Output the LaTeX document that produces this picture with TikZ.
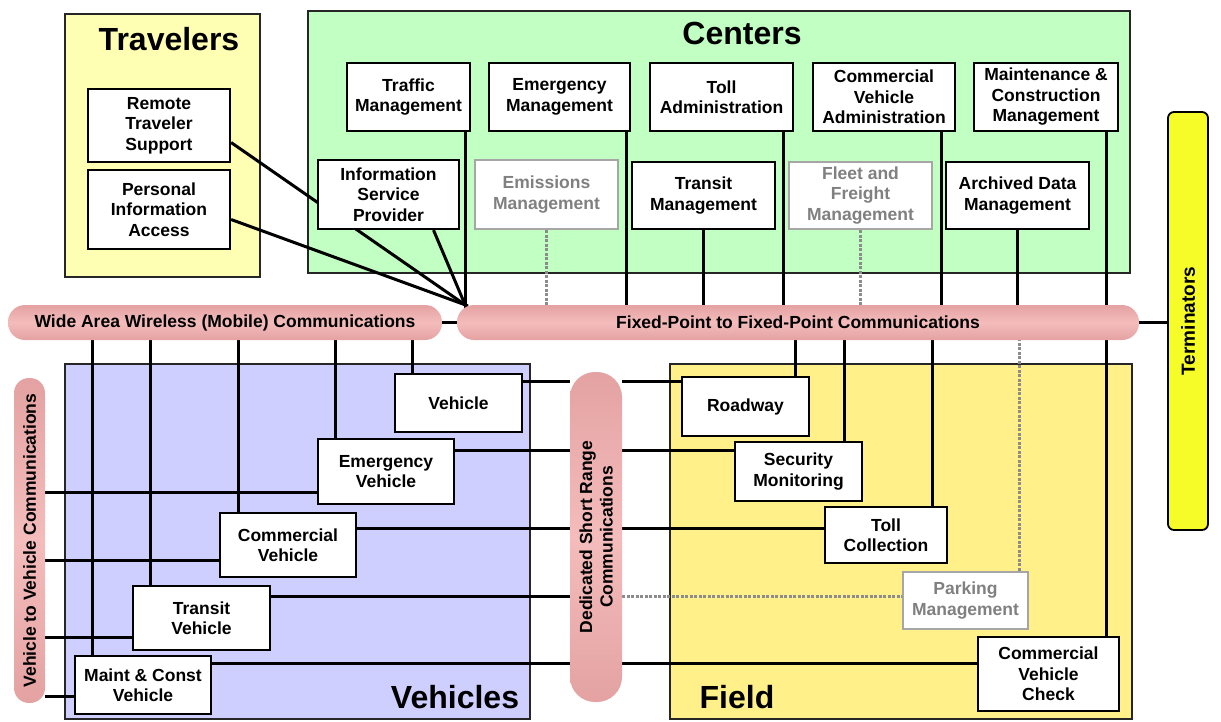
\documentclass[tikz,border=0pt]{standalone}
\usepackage{fontspec}
\setmainfont{Liberation Sans}
\usetikzlibrary{calc}
\pgfdeclarelayer{background}
\pgfdeclarelayer{links}
\pgfsetlayers{background,links,main}
\definecolor{travfill}{RGB}{255,255,180}
\definecolor{centfill}{RGB}{194,255,194}
\definecolor{vehfill}{RGB}{206,206,255}
\definecolor{fieldfill}{RGB}{255,240,138}
\definecolor{termfill}{RGB}{245,252,40}
\definecolor{pillrim}{RGB}{228,162,162}
\definecolor{pillcore}{RGB}{244,188,188}
\newcommand{\unitfont}{\fontsize{17.5}{20.5}\selectfont\bfseries}
\newcommand{\headfont}{\fontsize{32}{36}\selectfont\bfseries}
\tikzset{
  region/.style={draw=black!85,line width=1.8pt},
  head/.style={font=\headfont,inner sep=0pt},
  unit/.style={draw,fill=white,line width=2.2pt,align=center,inner sep=0pt,
    font=\unitfont,minimum width=142pt,minimum height=68pt},
  faded/.style={unit,draw=black!35,text=black!50},
  pill/.style={inner sep=0pt,align=center,font=\unitfont,rounded corners=17pt,
    top color=pillrim,bottom color=pillrim,middle color=pillcore},
  link/.style={line width=3pt},
  plink/.style={line width=3pt,draw=black!45,dash pattern=on 3pt off 1.5pt},
  hubline/.style={link,shorten >=-3pt}
}

\begin{document}
\begin{tikzpicture}[x=1pt,y=-1pt]
          \useasboundingbox (0,0) rectangle (1221,721);

          % the four groups
          \begin{pgfonlayer}{background}
            \draw[region,fill=travfill] (65,14) rectangle (260,277);
            \draw[region,fill=centfill] (308,11) rectangle (1130,273);
            \draw[region,fill=vehfill] (65,364) rectangle (530,719);
            \draw[region,fill=fieldfill] (670,364) rectangle (1132,719);
          \end{pgfonlayer}
          \node (travelers) at (169,39) [head] {Travelers};
          \node (centers) at (742,33) [head] {Centers};
          \node (vehicles) at (455,697) [head] {Vehicles};
          \node (field) at (737,697) [head] {Field};

          % travelers
          \node (rts) at (159,125.5) [unit,minimum height=73pt] {Remote\\Traveler\\Support};
          \node (pia) at (159,209.5) [unit,minimum height=79pt] {Personal\\Information\\Access};

          % centers
          \node (traffic) at (408.5,97) [unit,minimum width=123pt] {Traffic\\Management};
          \node (emergmgmt) at (559.5,97) [unit,minimum width=141pt] {Emergency\\Management};
          \node (tolladmin) at (721.5,97) [unit,minimum width=143pt] {Toll\\Administration};
          \node (cva) at (884,97) [unit] {Commercial\\Vehicle\\Administration};
          \node (mcm) at (1046,97) [unit,minimum width=144pt] {Maintenance \&\\Construction\\Management};
          \node (isp) at (388.5,194.5) [unit,minimum width=141pt,minimum height=69pt] {Information\\Service\\Provider};
          \node (emissions) at (546.5,194.5) [faded,minimum width=143pt,minimum height=69pt] {Emissions\\Management};
          \node (transitmgmt) at (703.5,195.5) [unit,minimum width=143pt,minimum height=67pt] {Transit\\Management};
          \node (fleet) at (860.5,195.5) [faded,minimum width=143pt,minimum height=67pt] {Fleet and\\Freight\\Management};
          \node (archived) at (1017.5,195.5) [unit,minimum width=143pt,minimum height=67pt] {Archived Data\\Management};

          % vehicles
          \node (vehicle) at (458.5,403) [unit,minimum width=127pt,minimum height=58pt] {Vehicle};
          \node (emergveh) at (386,471.5) [unit,minimum width=136pt,minimum height=65pt] {Emergency\\Vehicle};
          \node (commveh) at (288,545) [unit,minimum width=136pt,minimum height=64pt] {Commercial\\Vehicle};
          \node (transveh) at (201.5,618) [unit,minimum width=137pt,minimum height=64pt] {Transit\\Vehicle};
          \node (maintveh) at (143,685) [unit,minimum width=136pt,minimum height=58pt] {Maint \& Const\\Vehicle};

          % field
          \node (roadway) at (745.5,406.5) [unit,minimum width=127pt,minimum height=59pt] {Roadway};
          \node (secmon) at (798.5,471.5) [unit,minimum width=127pt,minimum height=59pt] {Security\\Monitoring};
          \node (tollcoll) at (886,535) [unit,minimum width=122pt,minimum height=56pt] {Toll\\Collection};
          \node (parking) at (965.5,600.5) [faded,minimum width=125pt,minimum height=57pt] {Parking\\Management};
          \node (cvcheck) at (1048.5,674) [unit,minimum width=141pt,minimum height=74pt] {Commercial\\Vehicle\\Check};

          % communications (rotated ones: north is the left side, south the right side)
          \node (wide) at (225,322.5) [pill,minimum width=434pt,minimum height=35pt] {Wide Area Wireless (Mobile) Communications};
          \node (fixed) at (798,322.5) [pill,minimum width=682pt,minimum height=35pt] {Fixed-Point to Fixed-Point Communications};
          \node (v2v) at (29.5,540.5) [pill,rotate=90,rounded corners=15pt,minimum width=325pt,minimum height=31pt] {Vehicle to Vehicle Communications};
          \node (dsrc) at (596,537) [pill,rotate=90,rounded corners=25pt,minimum width=330pt,minimum height=52pt] {Dedicated Short Range\\Communications};
          \node (term) at (1188,321) [rotate=90,draw,fill=termfill,line width=1.8pt,rounded corners=6pt,
            minimum width=418pt,minimum height=40pt,inner sep=0pt,font=\fontsize{19}{22}\selectfont\bfseries] {Terminators};

          \begin{pgfonlayer}{links}
            \draw[link] (wide.east) -- (fixed.west);
            \draw[link] (fixed.east) -- (fixed.east -| term.north);

            % into the hub on the fixed-point bus
            \coordinate (tmfoot) at ([xshift=-6pt]traffic.south east);
            \coordinate (hub) at (tmfoot |- fixed.north);
            \draw[hubline] (tmfoot) -- (hub);
            \draw[hubline] ([yshift=-17pt]rts.east) -- (hub);
            \draw[hubline] ([yshift=-10pt]pia.east) -- (hub);
            \draw[hubline] ([xshift=45pt]isp.south) -- (hub);

            % centers down to the bus
            \coordinate (emfoot) at ([xshift=-5pt]emergmgmt.south east);
            \coordinate (tafoot) at ([xshift=-11pt]tolladmin.south east);
            \coordinate (cvafoot) at ([xshift=-15pt]cva.south east);
            \coordinate (mcmfoot) at ([xshift=-13pt]mcm.south east);
            \draw[link] (emfoot) -- (emfoot |- fixed.north);
            \draw[link] (tafoot) -- (tafoot |- fixed.north);
            \draw[link] (cvafoot) -- (cvafoot |- fixed.north);
            \draw[link] (mcmfoot) -- (mcmfoot |- fixed.north);
            \draw[link] (transitmgmt.south) -- (transitmgmt.south |- fixed.north);
            \draw[link] (archived.south) -- (archived.south |- fixed.north);
            \draw[plink] (emissions.south) -- (emissions.south |- fixed.north);
            \draw[plink] (fleet.south) -- (fleet.south |- fixed.north);

            % wide area bus down to the vehicles
            \coordinate (wv1) at ([xshift=19pt]vehicle.north west);
            \coordinate (wv2) at ([xshift=19pt]emergveh.north west);
            \coordinate (wv3) at ([xshift=20pt]commveh.north west);
            \coordinate (wv4) at ([xshift=19pt]transveh.north west);
            \coordinate (wv5) at ([xshift=19pt]maintveh.north west);
            \draw[link] (wv1) -- (wv1 |- wide.south);
            \draw[link] (wv2) -- (wv2 |- wide.south);
            \draw[link] (wv3) -- (wv3 |- wide.south);
            \draw[link] (wv4) -- (wv4 |- wide.south);
            \draw[link] (wv5) -- (wv5 |- wide.south);

            % vehicle to vehicle
            \coordinate (vv2) at ([yshift=13pt]emergveh.south west);
            \coordinate (vv3) at ([yshift=18pt]commveh.south west);
            \coordinate (vv4) at ([yshift=14pt]transveh.south west);
            \coordinate (vv5) at ([yshift=19pt]maintveh.south west);
            \draw[link] (vv2) -- (vv2 -| v2v.south);
            \draw[link] (vv3) -- (vv3 -| v2v.south);
            \draw[link] (vv4) -- (vv4 -| v2v.south);
            \draw[link] (vv5) -- (vv5 -| v2v.south);

            % short range rows, vehicles to field
            \coordinate (d1) at ([yshift=-9pt]vehicle.north east);
            \coordinate (d2) at ([yshift=-13pt]emergveh.north east);
            \coordinate (d3) at ([yshift=-17pt]commveh.north east);
            \coordinate (d4) at ([yshift=-12pt]transveh.north east);
            \coordinate (d5) at ([yshift=-9pt]maintveh.north east);
            \draw[link] (d1) -- (d1 -| dsrc.north);
            \draw[link] (d2) -- (d2 -| dsrc.north);
            \draw[link] (d3) -- (d3 -| dsrc.north);
            \draw[link] (d4) -- (d4 -| dsrc.north);
            \draw[link] (d5) -- (d5 -| dsrc.north);
            \draw[link] (d1 -| dsrc.south) -- (d1 -| roadway.west);
            \draw[link] (d2 -| dsrc.south) -- (d2 -| secmon.west);
            \draw[link] (d3 -| dsrc.south) -- (d3 -| tollcoll.west);
            \draw[plink] (d4 -| dsrc.south) -- (d4 -| parking.west);
            \draw[link] (d5 -| dsrc.south) -- (d5 -| cvcheck.west);

            % fixed-point bus down to the field
            \coordinate (fr1) at ([xshift=-15pt]roadway.north east);
            \coordinate (fr2) at ([xshift=-19pt]secmon.north east);
            \coordinate (fr3) at ([xshift=-16pt]tollcoll.north east);
            \coordinate (fr4) at ([xshift=-10pt]parking.north east);
            \coordinate (fr5) at ([xshift=-14pt]cvcheck.north east);
            \draw[link] (fr1) -- (fr1 |- fixed.south);
            \draw[link] (fr2) -- (fr2 |- fixed.south);
            \draw[link] (fr3) -- (fr3 |- fixed.south);
            \draw[plink] (fr4) -- (fr4 |- fixed.south);
            \draw[link] (fr5) -- (fr5 |- fixed.south);
          \end{pgfonlayer}
        \end{tikzpicture}
\end{document}
